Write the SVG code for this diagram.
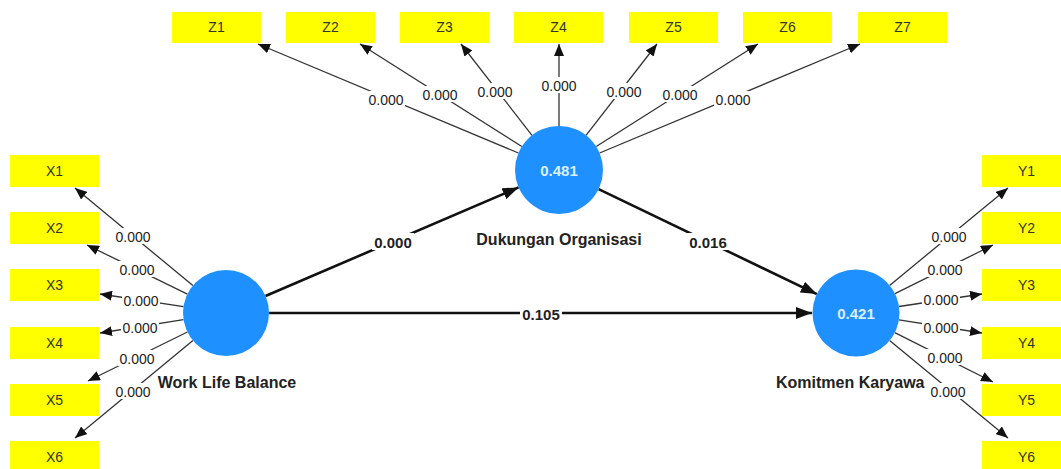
<svg xmlns="http://www.w3.org/2000/svg" width="1061" height="469" viewBox="0 0 1061 469">
<style>
.box{fill:#ffff00}
.bt{font-family:"Liberation Sans",Arial,sans-serif;font-size:14px;fill:#333;text-anchor:middle}
.lv{fill:#1e90ff}
.lvt{font-family:"Liberation Sans",Arial,sans-serif;font-size:15px;font-weight:bold;fill:#dcefff;text-anchor:middle}
.nl{font-family:"Liberation Sans",Arial,sans-serif;font-size:16px;font-weight:bold;fill:#222;text-anchor:middle}
.thin{stroke:#333;stroke-width:1.3;fill:none;marker-end:url(#a)}
.thick{stroke:#111;stroke-width:2.6;fill:none;marker-end:url(#b)}
.lb{font-family:"Liberation Sans",Arial,sans-serif;font-size:14px;fill:#222;text-anchor:middle}
.lbb{font-family:"Liberation Sans",Arial,sans-serif;font-size:15px;font-weight:bold;fill:#222;text-anchor:middle}
.bg{fill:#fff}
</style>
<defs>
<marker id="a" markerUnits="userSpaceOnUse" markerWidth="12" markerHeight="10" refX="12" refY="5" orient="auto"><path d="M0,0 L12,5 L0,10 z" fill="#111"/></marker>
<marker id="b" markerUnits="userSpaceOnUse" markerWidth="16" markerHeight="12" refX="16" refY="6" orient="auto"><path d="M0,0 L16,6 L0,12 z" fill="#111"/></marker>
</defs>
<rect width="1061" height="469" fill="#fff"/>
<g id="connectors">
<line class="thin" x1="518.4" y1="153" x2="258" y2="44"/>
<line class="thin" x1="521.8" y1="146.5" x2="360" y2="44"/>
<line class="thin" x1="532" y1="135.3" x2="461" y2="44"/>
<line class="thin" x1="559" y1="126" x2="559" y2="44"/>
<line class="thin" x1="586" y1="135.3" x2="657" y2="44"/>
<line class="thin" x1="596.2" y1="146.5" x2="758" y2="44"/>
<line class="thin" x1="599.6" y1="153" x2="860" y2="44"/>
<line class="thin" x1="192.9" y1="285.6" x2="75" y2="188"/>
<line class="thin" x1="187.4" y1="294.1" x2="87" y2="245"/>
<line class="thin" x1="183.5" y1="306.6" x2="100" y2="294"/>
<line class="thin" x1="183.5" y1="319.7" x2="100" y2="333"/>
<line class="thin" x1="187.4" y1="332" x2="88" y2="381"/>
<line class="thin" x1="192.9" y1="340.4" x2="75" y2="438"/>
<line class="thin" x1="889.6" y1="285.4" x2="1008" y2="188"/>
<line class="thin" x1="895" y1="293.6" x2="993" y2="245"/>
<line class="thin" x1="899" y1="306.5" x2="982" y2="294"/>
<line class="thin" x1="899" y1="319.8" x2="982" y2="333"/>
<line class="thin" x1="894.8" y1="332.6" x2="993" y2="382"/>
<line class="thin" x1="889.6" y1="340.6" x2="1008" y2="438"/>
<line class="thick" x1="265.5" y1="296" x2="518.6" y2="187.4"/>
<line class="thick" x1="598.6" y1="189.1" x2="816.8" y2="294.1"/>
<line class="thick" x1="269" y1="313" x2="812" y2="313"/>
<g id="labels">
<rect class="bg" x="367" y="91" width="38" height="16"/><text class="lb" x="386" y="105">0.000</text>
<rect class="bg" x="421" y="86" width="38" height="16"/><text class="lb" x="440" y="100">0.000</text>
<rect class="bg" x="476" y="83" width="38" height="16"/><text class="lb" x="495" y="97">0.000</text>
<rect class="bg" x="540" y="77" width="38" height="16"/><text class="lb" x="559" y="91">0.000</text>
<rect class="bg" x="605" y="83" width="38" height="16"/><text class="lb" x="624" y="97">0.000</text>
<rect class="bg" x="661" y="86" width="38" height="16"/><text class="lb" x="680" y="100">0.000</text>
<rect class="bg" x="714" y="91" width="38" height="16"/><text class="lb" x="733" y="105">0.000</text>
<rect class="bg" x="114" y="228" width="38" height="16"/><text class="lb" x="133" y="242">0.000</text>
<rect class="bg" x="118" y="261" width="38" height="16"/><text class="lb" x="137" y="275">0.000</text>
<rect class="bg" x="122" y="292" width="38" height="16"/><text class="lb" x="141" y="306">0.000</text>
<rect class="bg" x="121" y="319" width="38" height="16"/><text class="lb" x="140" y="333">0.000</text>
<rect class="bg" x="118" y="350" width="38" height="16"/><text class="lb" x="137" y="364">0.000</text>
<rect class="bg" x="114" y="383" width="38" height="16"/><text class="lb" x="133" y="397">0.000</text>
<rect class="bg" x="930" y="228" width="38" height="16"/><text class="lb" x="949" y="242">0.000</text>
<rect class="bg" x="926" y="261" width="38" height="16"/><text class="lb" x="945" y="275">0.000</text>
<rect class="bg" x="922" y="291" width="38" height="16"/><text class="lb" x="941" y="305">0.000</text>
<rect class="bg" x="922" y="319" width="38" height="16"/><text class="lb" x="941" y="333">0.000</text>
<rect class="bg" x="926" y="349" width="38" height="16"/><text class="lb" x="945" y="363">0.000</text>
<rect class="bg" x="929" y="383" width="38" height="16"/><text class="lb" x="948" y="397">0.000</text>
<rect class="bg" x="372" y="233" width="42" height="17"/><text class="lbb" x="393" y="248">0.000</text>
<rect class="bg" x="687" y="233" width="42" height="17"/><text class="lbb" x="708" y="248">0.016</text>
<rect class="bg" x="520" y="305" width="42" height="17"/><text class="lbb" x="541" y="320">0.105</text>
</g>
</g>
<g id="Z1"><rect class="box" x="172" y="12" width="89" height="31"/><text class="bt" x="216.5" y="32">Z1</text></g>
<g id="Z2"><rect class="box" x="286" y="12" width="89" height="31"/><text class="bt" x="330.5" y="32">Z2</text></g>
<g id="Z3"><rect class="box" x="400" y="12" width="89" height="31"/><text class="bt" x="444.5" y="32">Z3</text></g>
<g id="Z4"><rect class="box" x="514" y="12" width="89" height="31"/><text class="bt" x="558.5" y="32">Z4</text></g>
<g id="Z5"><rect class="box" x="629" y="12" width="89" height="31"/><text class="bt" x="673.5" y="32">Z5</text></g>
<g id="Z6"><rect class="box" x="743" y="12" width="89" height="31"/><text class="bt" x="787.5" y="32">Z6</text></g>
<g id="Z7"><rect class="box" x="858" y="12" width="89" height="31"/><text class="bt" x="902.5" y="32">Z7</text></g>
<g id="X1"><rect class="box" x="10" y="155" width="89" height="32"/><text class="bt" x="54.5" y="176">X1</text></g>
<g id="X2"><rect class="box" x="10" y="212" width="89" height="32"/><text class="bt" x="54.5" y="233">X2</text></g>
<g id="X3"><rect class="box" x="10" y="269" width="89" height="32"/><text class="bt" x="54.5" y="290">X3</text></g>
<g id="X4"><rect class="box" x="10" y="327" width="89" height="32"/><text class="bt" x="54.5" y="348">X4</text></g>
<g id="X5"><rect class="box" x="10" y="384" width="89" height="32"/><text class="bt" x="54.5" y="405">X5</text></g>
<g id="X6"><rect class="box" x="10" y="441" width="89" height="32"/><text class="bt" x="54.5" y="462">X6</text></g>
<g id="Y1"><rect class="box" x="982" y="155" width="89" height="32"/><text class="bt" x="1026.5" y="176">Y1</text></g>
<g id="Y2"><rect class="box" x="982" y="212" width="89" height="32"/><text class="bt" x="1026.5" y="233">Y2</text></g>
<g id="Y3"><rect class="box" x="982" y="269" width="89" height="32"/><text class="bt" x="1026.5" y="290">Y3</text></g>
<g id="Y4"><rect class="box" x="982" y="327" width="89" height="32"/><text class="bt" x="1026.5" y="348">Y4</text></g>
<g id="Y5"><rect class="box" x="982" y="384" width="89" height="32"/><text class="bt" x="1026.5" y="405">Y5</text></g>
<g id="Y6"><rect class="box" x="982" y="441" width="89" height="32"/><text class="bt" x="1026.5" y="462">Y6</text></g>
<g id="WLB"><circle class="lv" cx="226" cy="313" r="43"/><text class="nl" x="227" y="388">Work Life Balance</text></g>
<g id="DO"><circle class="lv" cx="559" cy="170" r="44"/><text class="lvt" x="559" y="176">0.481</text><text class="nl" x="559" y="245">Dukungan Organisasi</text></g>
<g id="KK"><circle class="lv" cx="856" cy="313" r="43.5"/><text class="lvt" x="856" y="319">0.421</text><text class="nl" x="776" y="388" style="text-anchor:start">Komitmen Karyawa</text></g>
</svg>
